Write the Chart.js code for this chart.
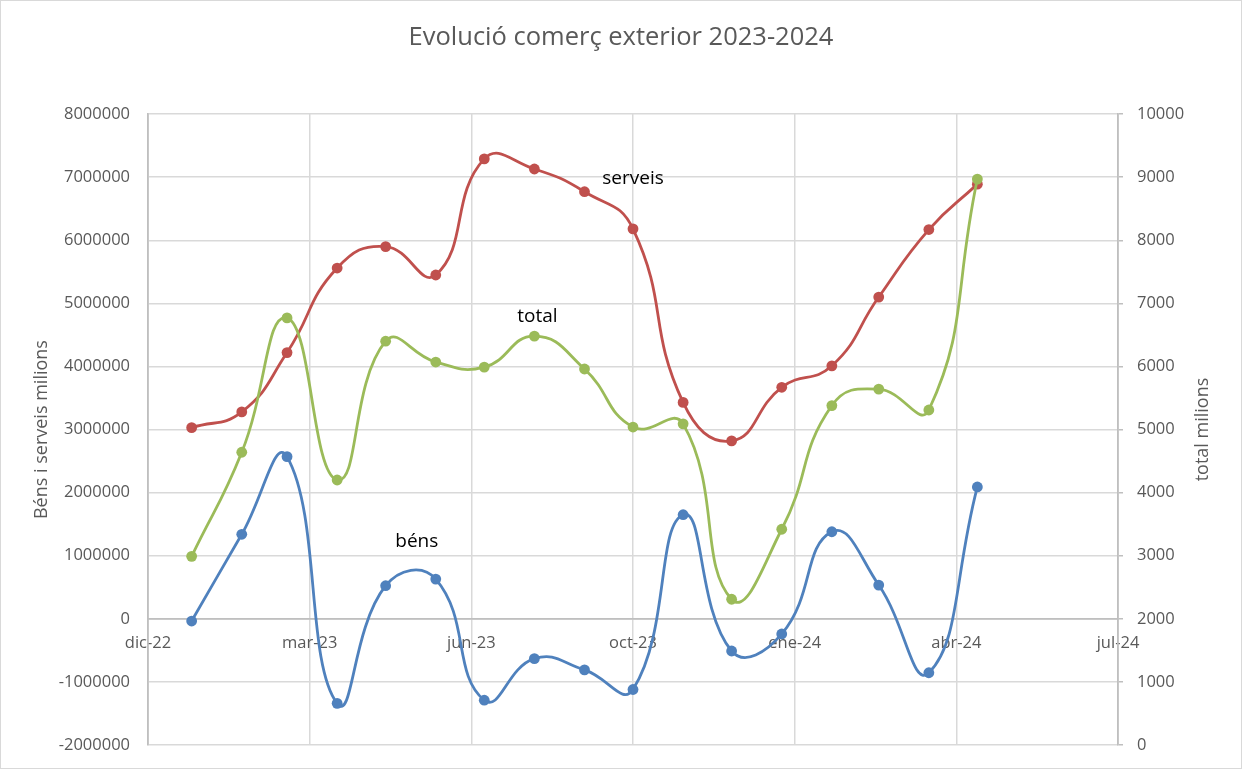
<!DOCTYPE html>
<html>
<head>
<meta charset="utf-8">
<script src="https://cdn.jsdelivr.net/npm/chart.js@4.4.1/dist/chart.umd.min.js"></script>
<style>
  html, body { margin: 0; padding: 0; background: #fff; }
  #wrap { width: 1242px; height: 769px; position: relative; }
</style>
</head>
<body>
<div id="wrap"><canvas id="chart"></canvas></div>
<script>
// monthly points, Jan 2023 .. May 2024
const months = ['2023-01-01', '2023-02-01', '2023-03-01', '2023-04-01', '2023-05-01', '2023-06-01',
                '2023-07-01', '2023-08-01', '2023-09-01', '2023-10-01', '2023-11-01', '2023-12-01',
                '2024-01-01', '2024-02-01', '2024-03-01', '2024-04-01', '2024-05-01'];
const bens = [-35000, 1340000, 2570000, -1340000, 525000, 630000, -1290000, -630000, -810000,
              -1120000, 1650000, -510000, -240000, 1380000, 535000, -855000, 2090000];
const serveis = [3030000, 3280000, 4220000, 5560000, 5900000, 5450000, 7290000, 7130000, 6770000,
                 6180000, 3430000, 2820000, 3670000, 4010000, 5100000, 6170000, 6890000];
const total = [2990, 4640, 6770, 4200, 6400, 6070, 5990, 6480, 5960,
               5040, 5090, 2310, 3420, 5380, 5640, 5310, 8970];
const xTickLabels = ['dic-22', 'mar-23', 'jun-23', 'oct-23', 'ene-24', 'abr-24', 'jul-24'];
const xStart = '2022-12-05';
const xEnd = '2024-07-27';

// Excel style serial day number
function toSerial(s) {
    return (Date.parse(s) - Date.UTC(1899, 11, 30)) / 86400000;
}
function points(values) {
    return values.map((v, i) => ({ x: toSerial(months[i]), y: v }));
}

const GREY_TEXT = '#595959';
const FONT = '"Open Sans", sans-serif';

function lineSet(label, values, color, axis, order) {
    return {
        label: label,
        data: points(values),
        yAxisID: axis,
        borderColor: color,
        backgroundColor: color,
        borderWidth: 2.8,
        pointRadius: 5.4,
        pointBorderWidth: 0,
        pointBackgroundColor: color,
        tension: 0.48,
        order: order
    };
}

// series names written next to one of their points (like Excel data labels)
const seriesNames = [
    { dataset: 1, index: 9, text: 'serveis', dx: 0, dy: -50 },
    { dataset: 2, index: 7, text: 'total', dx: 3, dy: -20 },
    { dataset: 0, index: 5, text: 'béns', dx: -19, dy: -37 }
];

// fixed axis widths, and no extra label padding so the plot keeps its size
function fixWidth(w) {
    return scale => {
        scale.width = w;
        scale.paddingTop = 0;
        scale.paddingBottom = 0;
    };
}

const extras = {
    id: 'extras',
    beforeDraw(chart) {
        const ctx = chart.ctx;
        ctx.save();
        ctx.fillStyle = '#fff';
        ctx.fillRect(0, 0, chart.width, chart.height);
        ctx.strokeStyle = '#D9D9D9';
        ctx.lineWidth = 1;
        ctx.strokeRect(0.5, 0.5, chart.width - 1, chart.height - 1);
        ctx.restore();
    },
    afterDraw(chart) {
        const ctx = chart.ctx;
        const area = chart.chartArea;
        ctx.save();
        // secondary axis title, reading bottom to top
        ctx.translate(1203, (area.top + area.bottom) / 2);
        ctx.rotate(-Math.PI / 2);
        ctx.font = '18px ' + FONT;
        ctx.fillStyle = GREY_TEXT;
        ctx.textAlign = 'center';
        ctx.textBaseline = 'middle';
        ctx.fillText('total milions', 0, 0);
        ctx.restore();

        ctx.save();
        ctx.font = '19px ' + FONT;
        ctx.fillStyle = '#000';
        ctx.textAlign = 'center';
        ctx.textBaseline = 'middle';
        seriesNames.forEach(n => {
            const el = chart.getDatasetMeta(n.dataset).data[n.index];
            ctx.fillText(n.text, el.x + n.dx, el.y + n.dy);
        });
        ctx.restore();
    }
};

new Chart(document.getElementById('chart'), {
    type: 'line',
    data: {
        datasets: [
            lineSet('béns', bens, '#4F81BD', 'y', 3),
            lineSet('serveis', serveis, '#C0504D', 'y', 2),
            lineSet('total', total, '#9BBB59', 'y1', 1)
        ]
    },
    options: {
        responsive: true,
        maintainAspectRatio: false,
        animation: false,
        layout: { padding: { top: 0, bottom: 24, left: 0, right: 0 } },
        plugins: {
            legend: { display: false },
            tooltip: { enabled: false },
            title: {
                display: true,
                text: 'Evolució comerç exterior 2023-2024',
                color: GREY_TEXT,
                font: { size: 25.5, family: FONT, weight: 'normal' },
                padding: { top: 22, bottom: 61.5 }
            }
        },
        scales: {
            x: {
                type: 'linear',
                position: { y: 0 },
                min: toSerial(xStart),
                max: toSerial(xEnd),
                grid: { color: '#D9D9D9', lineWidth: 1.5, drawTicks: false },
                border: { color: '#BFBFBF', width: 1.8 },
                ticks: {
                    stepSize: 100,
                    padding: 15,
                    maxRotation: 0,
                    autoSkip: false,
                    color: GREY_TEXT,
                    font: { size: 16.5, family: FONT },
                    callback: (value, index) => xTickLabels[index]
                }
            },
            y: {
                position: 'left',
                min: -2000000,
                max: 8000000,
                grid: { color: '#D9D9D9', lineWidth: 1.5, drawTicks: false },
                border: { color: '#BFBFBF', width: 1.8 },
                ticks: {
                    stepSize: 1000000,
                    padding: 18,
                    color: GREY_TEXT,
                    font: { size: 16.5, family: FONT },
                    callback: value => String(value)
                },
                title: {
                    display: true,
                    text: 'Béns i serveis milions',
                    color: GREY_TEXT,
                    font: { size: 18, family: FONT },
                    padding: { top: 31, bottom: 0 }
                },
                afterFit: fixWidth(148)
            },
            y1: {
                position: 'right',
                min: 0,
                max: 10000,
                grid: { drawOnChartArea: false, color: '#BFBFBF', tickLength: 5, lineWidth: 1.5 },
                border: { color: '#BFBFBF', width: 1.8 },
                ticks: {
                    stepSize: 1000,
                    padding: 14,
                    color: GREY_TEXT,
                    font: { size: 16.5, family: FONT },
                    callback: value => String(value)
                },
                afterFit: fixWidth(124)
            }
        }
    },
    plugins: [extras]
});
</script>
</body>
</html>
